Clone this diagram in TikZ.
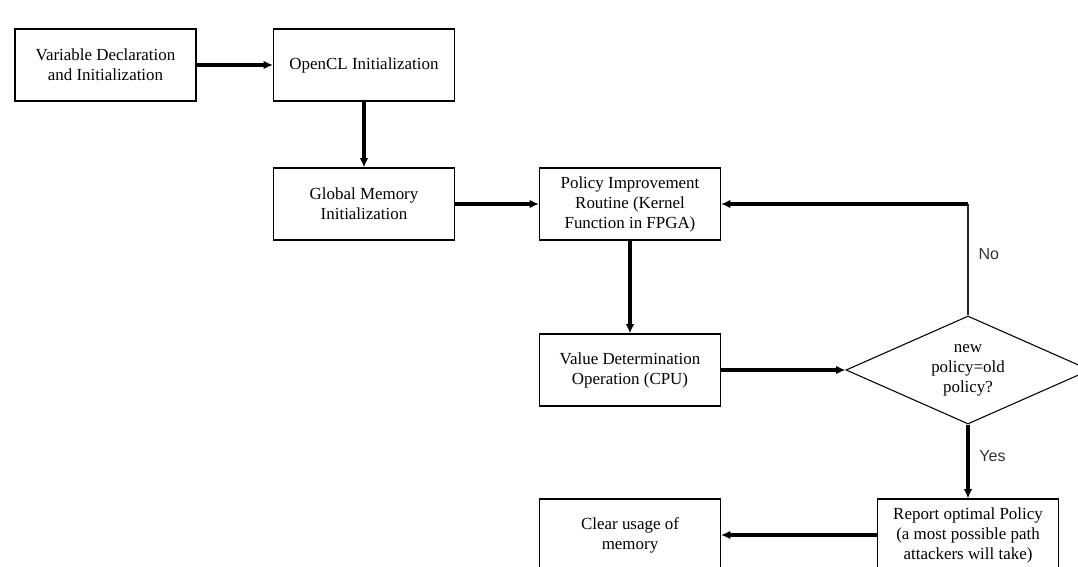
\documentclass[tikz,border=0pt]{standalone}
\usepackage{fontspec}
\setmainfont{Liberation Serif}
\newfontfamily\labelfont{Liberation Sans}
\usetikzlibrary{shapes.geometric,arrows.meta}
\begin{document}
\begin{tikzpicture}[x=0.75pt, y=-0.75pt,
every node/.style={font=\fontsize{12.7}{15}\selectfont},
block/.style={draw, line width=0.8pt, minimum width=135.75pt, minimum height=54pt, align=center, inner sep=2pt},
decision/.style={draw, diamond, aspect=2.26, line width=0.8pt, minimum width=183pt, minimum height=81pt, inner sep=0pt, align=center},
flow/.style={line width=2.4pt, -{Latex[length=7pt,width=6.5pt]}},
answer/.style={font=\labelfont\fontsize{12}{14}\selectfont, text=black!80, right, xshift=4pt}]
\useasboundingbox (0,0) rectangle (1078,567);
\clip (0,0) rectangle (1078,567);
\node[block] (vardecl) at (105.5,65) {Variable Declaration\\and Initialization};
\node[block] (opencl) at (364,65) {OpenCL Initialization};
\node[block] (globalmem) at (364,204) {Global Memory\\Initialization};
\node[block] (policy) at (630,204) {Policy Improvement\\Routine (Kernel\\Function in FPGA)};
\node[block] (valuedet) at (630,370) {Value Determination\\Operation (CPU)};
\node[decision] (check) at (968,370) {new\\policy=old\\policy?};
\node[block] (report) at (968,535) {Report optimal Policy\\(a most possible path\\attackers will take)};
\node[block] (clearmem) at (630,535) {Clear usage of\\memory};
\draw[flow] (vardecl) -- (opencl);
\draw[flow] (opencl) -- (globalmem);
\draw[flow] (globalmem) -- (policy);
\draw[flow] (policy) -- (valuedet);
\draw[flow] (valuedet) -- (check);
\draw[flow] (check) -- node[answer, pos=0.43] {Yes} (report);
\draw[flow] (report) -- (clearmem);
\coordinate (back) at (check.north |- policy.east);
\draw[line width=1.1pt, black!85] (check.north) -- node[answer, pos=0.55] {No} (back);
\draw[flow] (back) -- (policy.east);
\end{tikzpicture}
\end{document}
